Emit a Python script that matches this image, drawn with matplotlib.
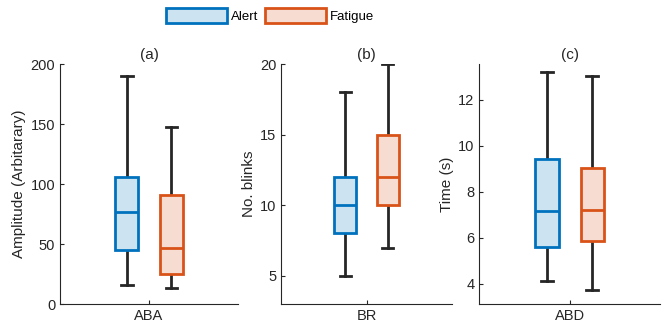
import matplotlib
matplotlib.use('Agg')
import matplotlib.pyplot as plt
from matplotlib.patches import Patch

plt.rcParams['font.family'] = ['Liberation Sans', 'DejaVu Sans']
plt.rcParams['font.size'] = 10

# box statistics: [low whisker, Q1, median, Q3, high whisker]
groups = ['Alert', 'Fatigue']
aba_alert = [15.5, 45, 77, 106, 190]
aba_fatigue = [13.6, 24.7, 47, 90.5, 147.5]
br_alert = [5, 8, 10, 12, 18]
br_fatigue = [7, 10, 12, 15, 20]
abd_alert = [4.14, 5.6, 7.15, 9.42, 13.19]
abd_fatigue = [3.74, 5.87, 7.2, 9.03, 13.04]

panels = [
    ('(a)', 'ABA', 'Amplitude (Arbitarary)', aba_alert, aba_fatigue, (0, 200), [0, 50, 100, 150, 200]),
    ('(b)', 'BR', 'No. blinks', br_alert, br_fatigue, (3, 20), [5, 10, 15, 20]),
    ('(c)', 'ABD', 'Time (s)', abd_alert, abd_fatigue, (3.13, 13.55), [4, 6, 8, 10, 12]),
]

edge_cols = ['#0072BD', '#D95319']
fill_cols = ['#CCE3F2', '#F7DDD1']
dark = '#262626'

fig = plt.figure(figsize=(6.67, 3.25), dpi=100)
lefts = [0.090, 0.4213, 0.7186]
widths = [0.267, 0.2564, 0.271]

def to_stats(v):
    return dict(whislo=v[0], q1=v[1], med=v[2], q3=v[3], whishi=v[4], fliers=[])

for i, (title, xlab, ylab, alert, fatigue, ylim, yticks) in enumerate(panels):
    ax = fig.add_axes([lefts[i], 0.0646, widths[i], 0.738])
    for j, vals in enumerate([alert, fatigue]):
        pos = 1 - 0.125 if j == 0 else 1 + 0.125
        ax.bxp([to_stats(vals)], positions=[pos], widths=0.13, capwidths=0.065,
               patch_artist=True, showfliers=False, manage_ticks=False,
               boxprops=dict(facecolor=fill_cols[j], edgecolor=edge_cols[j], linewidth=2, zorder=3),
               medianprops=dict(color=edge_cols[j], linewidth=2, zorder=4),
               whiskerprops=dict(color=dark, linewidth=2, zorder=2),
               capprops=dict(color=dark, linewidth=2, zorder=2))
    ax.set_xlim(0.5, 1.5)
    ax.set_ylim(*ylim)
    ax.set_xticks([1])
    ax.set_xticklabels([xlab])
    ax.set_yticks(yticks)
    ax.set_ylabel(ylab, color=dark, fontsize=11, labelpad=3)
    ax.set_title(title, pad=4, color=dark, fontsize=11)
    ax.spines['top'].set_visible(False)
    ax.spines['right'].set_visible(False)
    for s in ['left', 'bottom']:
        ax.spines[s].set_color(dark)
        ax.spines[s].set_linewidth(0.8)
    ax.tick_params(direction='in', length=3, colors=dark, labelsize=10.5)

handles = [Patch(facecolor=fill_cols[k], edgecolor=edge_cols[k], linewidth=2, label=groups[k]) for k in range(2)]
fig.legend(handles=handles, loc='upper center', bbox_to_anchor=(0.405, 0.975), ncol=2,
           frameon=False, fontsize=9.5, handlelength=4.6, handleheight=1.36, handletextpad=0.33,
           columnspacing=0.5, borderpad=0, borderaxespad=0)

fig.savefig('out.png', dpi=100)
